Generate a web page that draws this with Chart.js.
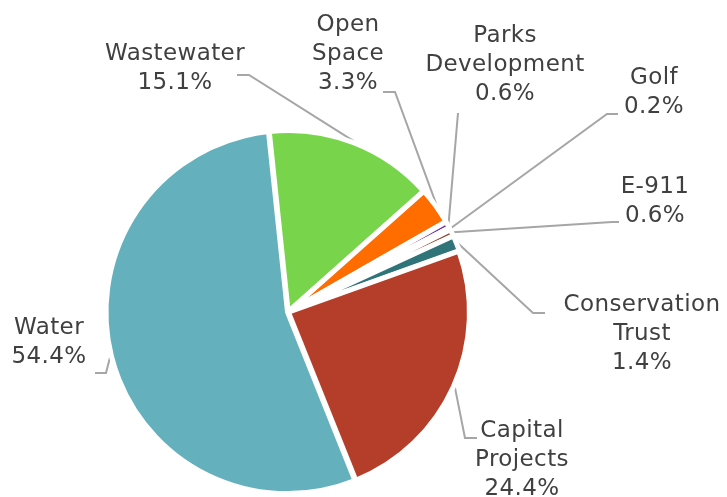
<!DOCTYPE html>
<html>
<head>
<meta charset="utf-8">
<script src="https://cdn.jsdelivr.net/npm/chart.js@4/dist/chart.umd.min.js"></script>
<style>
  html, body { margin: 0; padding: 0; background: #fff; }
  #wrap { width: 727px; height: 497px; position: relative; }
</style>
</head>
<body>
<div id="wrap"><canvas id="pie"></canvas></div>
<script>
// data
const categories = ['Wastewater', 'Open Space', 'Parks Development', 'Golf', 'E-911', 'Conservation Trust', 'Capital Projects', 'Water'];
const shares = [15.1, 3.3, 0.6, 0.2, 0.6, 1.4, 24.4, 54.4];
const colors = ['#78D54B', '#FF6C00', '#7030A0', '#E8C8B8', '#9C4A34', '#2F7479', '#B43E29', '#64B0BC'];

// label text lines (per category) and where they sit
const labelLines = [
  ['Wastewater'], ['Open', 'Space'], ['Parks', 'Development'], ['Golf'],
  ['E-911'], ['Conservation', 'Trust'], ['Capital', 'Projects'], ['Water']
];
// x centre, cap-middle y of first line
const labelPos = [[175, 52], [348, 23], [505, 34], [654, 76], [655, 185], [642, 302.5], [522, 429], [49, 326]];
// leader line: start point near label, optional elbow
const leaders = [
  [[237, 75], [249, 75]],
  [[383, 92], [395, 92]],
  [[458, 113], null],
  [[618, 114], [607, 114]],
  [[619, 222], [612, 222]],
  [[545, 313], [533, 313]],
  [[477, 438], [465, 438]],
  [[95, 373], [106, 373]]
];

const LINE_H = 29;
const FONT = '23px "DejaVu Sans", Verdana, sans-serif';

const leaderPlugin = {
  id: 'leaders',
  beforeDatasetsDraw(chart) {
    const ctx = chart.ctx;
    const arcs = chart.getDatasetMeta(0).data;
    ctx.save();
    ctx.strokeStyle = '#A6A6A6';
    ctx.lineWidth = 2;
    arcs.forEach((arc, i) => {
      const p = arc.getProps(['x', 'y', 'startAngle', 'endAngle', 'outerRadius'], true);
      const mid = (p.startAngle + p.endAngle) / 2;
      const r = p.outerRadius + 2;
      const ex = p.x + Math.cos(mid) * r;
      const ey = p.y + Math.sin(mid) * r;
      const [s, e] = leaders[i];
      ctx.beginPath();
      ctx.moveTo(s[0], s[1]);
      if (e) ctx.lineTo(e[0], e[1]);
      ctx.lineTo(ex, ey);
      ctx.stroke();
    });
    ctx.restore();
  },
  afterDatasetsDraw(chart) {
    const ctx = chart.ctx;
    ctx.save();
    ctx.font = FONT;
    ctx.letterSpacing = '0.4px';
    ctx.fillStyle = '#404040';
    ctx.textAlign = 'center';
    ctx.textBaseline = 'alphabetic';
    categories.forEach((c, i) => {
      const lines = labelLines[i].concat([shares[i].toFixed(1) + '%']);
      const [x, y0] = labelPos[i];
      lines.forEach((t, k) => {
        ctx.fillText(t, x, y0 + k * LINE_H + 8);
      });
    });
    ctx.restore();
  }
};

new Chart(document.getElementById('pie'), {
  type: 'pie',
  data: {
    labels: categories,
    datasets: [{
      data: shares,
      backgroundColor: colors,
      borderColor: '#ffffff',
      borderWidth: 5,
      offset: 2,
      radius: 181
    }]
  },
  options: {
    responsive: true,
    maintainAspectRatio: false,
    animation: false,
    rotation: -6,
    layout: { padding: { left: 0, right: 151, top: 127, bottom: 0 } },
    plugins: { legend: { display: false }, tooltip: { enabled: false } }
  },
  plugins: [leaderPlugin]
});
</script>
</body>
</html>
